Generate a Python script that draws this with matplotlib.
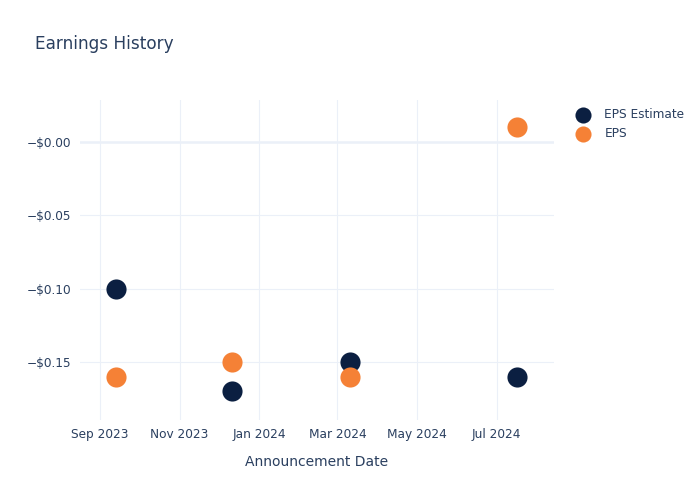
import datetime as dt
import matplotlib
matplotlib.use("Agg")
import matplotlib.pyplot as plt
import matplotlib.dates as mdates

# data
dates = ["2023-09-13", "2023-12-11", "2024-03-11", "2024-07-17"]
eps_estimate = [-0.10, -0.17, -0.15, -0.16]
eps_actual = [-0.16, -0.15, -0.16, 0.01]
y_ticks = [0.0, -0.05, -0.10, -0.15]
y_labels = ["\u2212$0.00", "\u2212$0.05", "\u2212$0.10", "\u2212$0.15"]

text_color = "#2a3f5f"
grid_color = "#ebf0f8"

x = [dt.datetime.strptime(d, "%Y-%m-%d") for d in dates]

fig = plt.figure(figsize=(7, 5), dpi=100)
ax = fig.add_axes([80 / 700, 80 / 500, 474 / 700, 320 / 500])

ax.scatter(x, eps_estimate, s=210, color="#0b1f41", label="EPS Estimate", zorder=3, linewidths=0)
ax.scatter(x, eps_actual, s=210, color="#f58136", label="EPS", zorder=3, linewidths=0)

ax.set_xlim(dt.datetime(2023, 8, 16, 16), dt.datetime(2024, 8, 14))
ax.set_ylim(-0.1896, 0.0287)

ax.xaxis.set_major_locator(mdates.MonthLocator(bymonth=[1, 3, 5, 7, 9, 11]))
ax.xaxis.set_major_formatter(mdates.DateFormatter("%b %Y"))
ax.set_yticks(y_ticks)
ax.set_yticklabels(y_labels)

for s in ax.spines.values():
    s.set_visible(False)
ax.grid(True, color=grid_color, linewidth=0.8)
ax.axhline(0, color=grid_color, linewidth=1.8, zorder=1)
ax.set_axisbelow(True)
ax.tick_params(length=0, labelsize=8.7, labelcolor=text_color, pad=6)

ax.set_xlabel("Announcement Date", fontsize=10, color=text_color, labelpad=10)
fig.text(35 / 700, 1 - 44 / 500, "Earnings History", fontsize=12.2, color=text_color, va="center")

ax.legend(loc="upper left", bbox_to_anchor=(1.013, 1.01), frameon=False, fontsize=8.7,
          labelcolor=text_color, handletextpad=0.75, labelspacing=0.55, markerscale=0.8)

fig.savefig("out.png", dpi=100)
